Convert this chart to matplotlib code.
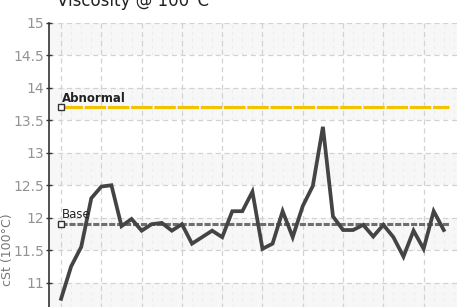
import numpy as np
import matplotlib.pyplot as plt

# viscosity readings, one per sample
samples = list(range(39))
viscosity = [10.75, 11.25, 11.55, 12.3, 12.48, 12.5, 11.87, 11.98, 11.8, 11.9,
             11.92, 11.8, 11.9, 11.6, 11.7, 11.8, 11.7, 12.1, 12.1, 12.4,
             11.52, 11.6, 12.1, 11.7, 12.18, 12.49, 13.4, 12.02, 11.81, 11.81,
             11.89, 11.71, 11.89, 11.7, 11.4, 11.8, 11.52, 12.1, 11.81]
abnormal_level = 13.7
base_level = 11.9
yticks = [11, 11.5, 12, 12.5, 13, 13.5, 14, 14.5, 15]
ytick_labels = ["11", "11.5", "12", "12.5", "13", "13.5", "14", "14.5", "15"]
bands = [(14.5, 15), (13.5, 14), (12.5, 13), (11.5, 12), (10.5, 11)]

narrow = ["Liberation Sans Narrow", "DejaVu Sans"]

W, H = 457, 307
fig = plt.figure(figsize=(W / 100, H / 100), dpi=100)
ax_top = 23
px_per_unit = 64.9
ax_h = 5 * px_per_unit
ax = fig.add_axes([49 / W, (H - ax_top - ax_h) / H, 430 / W, ax_h / H])
ax.set_xlim(-1.2, 41.5)
ax.set_ylim(10, 15)

# shaded bands + faint minor verticals
for lo, hi in bands:
    ax.axhspan(lo, hi, color="#f7f7f7", lw=0, zorder=0)
    ax.vlines(np.arange(0, 42), lo, hi, color="#ececec", lw=0.7,
              linestyles=(0, (3, 4)), zorder=0.5)

ax.set_xticks(np.arange(0, 42, 4))
ax.set_yticks(yticks)
ax.set_yticklabels(ytick_labels, family=narrow, fontsize=10, color="#939393")
ax.grid(True, color="#d2d2d2", lw=0.9, linestyle=(0, (4, 3)), zorder=1)
ax.tick_params(axis="x", length=0, labelbottom=False)
ax.tick_params(axis="y", length=5, width=1, direction="inout", color="#333333", pad=1)
for s in ["top", "right", "bottom"]:
    ax.spines[s].set_visible(False)
ax.spines["left"].set_color("#333333")
ax.spines["left"].set_linewidth(1.2)
ax.set_axisbelow(True)

# reference lines
x_end = 38.5
ax.plot([0, x_end], [abnormal_level] * 2, color="#f2c200", lw=2.2,
        linestyle=(0, (7, 0.6)), dash_capstyle="butt", zorder=3)
ax.plot([0, x_end], [base_level] * 2, color="#6e6e6e", lw=2.2,
        linestyle=(0, (2, 0.6)), dash_capstyle="butt", zorder=3)
ax.plot([0], [abnormal_level], marker="s", ms=4, mfc="white", mec="#333333", mew=1, zorder=5)
ax.plot([0], [base_level], marker="s", ms=4, mfc="white", mec="#333333", mew=1, zorder=5)
ax.text(0.05, abnormal_level + 0.09, "Abnormal", fontsize=8.5, color="#222222",
        fontweight="bold", family=narrow, zorder=6)
ax.text(0.05, base_level + 0.09, "Base", fontsize=8.5, color="#222222",
        family=narrow, zorder=6)

# main series
ax.plot(samples, viscosity, color="#444444", lw=2.7, solid_joinstyle="miter", zorder=4)

fig.text(57 / W, 1 - 6 / H, "Viscosity @ 100°C", fontsize=12, color="#222222",
         va="baseline", ha="left")
fig.text(8 / W, 1 - 250 / H, "cSt (100°C)", rotation=90, fontsize=9, color="#777777",
         family=narrow, va="center", ha="center")

fig.savefig("out.png", dpi=100)
